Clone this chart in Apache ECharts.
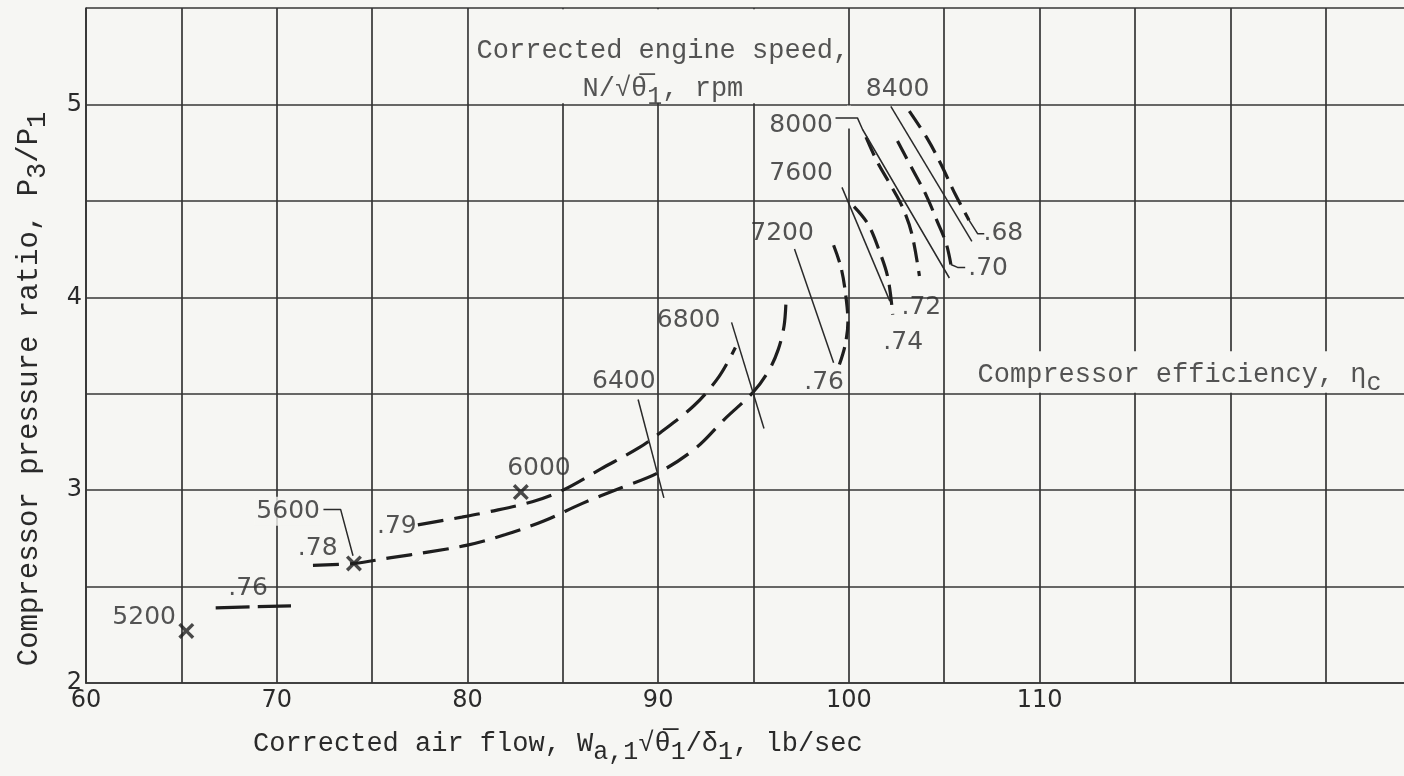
<!DOCTYPE html>
<html>
<head>
<meta charset="utf-8">
<script src="https://cdn.jsdelivr.net/npm/echarts@6/dist/echarts.min.js"></script>
<style>
  html, body { margin: 0; padding: 0; background: #f6f6f3; overflow: hidden; }
  /* the plot runs on past the right edge of the window, as on the original sheet */
  #chart { width: 1424px; height: 776px; }
</style>
</head>
<body>
<div id="chart"></div>
<script>
// Axis tick labels
const xTickLabels = [60, 70, 80, 90, 100, 110];
const yTickLabels = [2, 3, 4, 5];

// Surge points: corrected speed, corrected air flow (lb/sec), pressure ratio
const surgeSpeed = ['5200', '5600', '6000'];
const surgeFlow = [65.26, 74.05, 82.8];
const surgeRatio = [2.27, 2.62, 2.99];

// Constant corrected-speed lines, [air flow, pressure ratio]
const line6400 = [[88.95, 3.47], [90.3, 2.96]];
const line6800 = [[93.85, 3.87], [95.55, 3.32]];
const line7200 = [[97.15, 4.25], [99.2, 3.66]];
const line7600 = [[99.64, 4.57], [102.15, 3.98]];
const line8000 = [[99.3, 4.93], [100.45, 4.93], [100.72, 4.87], [105.27, 4.10]];
const line8400 = [[102.2, 4.99], [106.45, 4.29]];

// Compressor efficiency contours, [air flow, pressure ratio]
const eta68 = [[103.17, 4.965], [104.13, 4.82], [104.83, 4.69], [105.6, 4.53], [106.3, 4.40]];
const eta70 = [[102.55, 4.81], [103.3, 4.67], [104.05, 4.53], [104.65, 4.39], [105.1, 4.28], [105.35, 4.17]];
const eta72 = [[100.9, 4.83], [101.5, 4.70], [102.2, 4.58], [102.8, 4.47], [103.3, 4.33], [103.7, 4.11]];
const eta74 = [[100.27, 4.47], [101.0, 4.38], [101.6, 4.24], [102.05, 4.10], [102.3, 3.91]];
const eta76High = [[99.2, 4.27], [99.6, 4.15], [99.85, 4.0], [99.95, 3.87], [99.8, 3.75], [99.5, 3.65]];
const eta76Low = [[66.8, 2.39], [70.75, 2.40]];
const eta78 = [[71.9, 2.61], [74.05, 2.62], [76, 2.65], [78, 2.68], [80, 2.715], [82, 2.77], [84, 2.84],
               [86, 2.93], [88, 3.01], [90, 3.09], [92, 3.22], [93.5, 3.37], [95, 3.51], [95.8, 3.62],
               [96.3, 3.73], [96.6, 3.85], [96.7, 3.97]];
const eta79 = [[77.4, 2.82], [79.7, 2.86], [81, 2.885], [83.4, 2.94], [85, 3.0], [87, 3.11], [89, 3.22],
               [90, 3.29], [91.9, 3.44], [93.2, 3.59], [94.05, 3.74]];

// Leaders from labels to curves
const lead68 = [[106.3, 4.40], [106.75, 4.33], [107.1, 4.33]];
const lead70 = [[105.35, 4.17], [105.7, 4.155], [106.1, 4.155]];
const lead5600 = [[72.45, 2.90], [73.35, 2.90], [74.0, 2.66]];

// Speed and efficiency labels with their anchor points
const speedLabels = ['5200', '5600', '6000', '6400', '6800', '7200', '7600', '8000', '8400'];
const speedLabelAt = [[63.05, 2.34], [70.6, 2.89], [83.75, 3.11], [88.2, 3.565], [91.6, 3.88],
                      [96.5, 4.33], [97.5, 4.64], [97.5, 4.89], [102.56, 5.075]];
const etaLabels = ['.76', '.78', '.79', '.76', '.74', '.72', '.70', '.68'];
const etaLabelAt = [[68.5, 2.49], [72.15, 2.70], [76.3, 2.81], [98.7, 3.56], [102.85, 3.765],
                    [103.8, 3.945], [107.3, 4.15], [108.1, 4.33]];

const BG = '#f6f6f3';
const INK = '#2a2a2a';
const GRID = '#363636';
const MONO = '"Liberation Mono", "DejaVu Sans Mono", monospace';
const SANS = '"DejaVu Sans", sans-serif';

const chart = echarts.init(document.getElementById('chart'));

function contour(data, dash) {
  return {
    type: 'line', data: data, symbol: 'none', smooth: 0.35, silent: true, z: 3,
    lineStyle: { color: '#1e1e1e', width: 3.2, type: dash, cap: 'butt' }
  };
}
function thin(data) {
  return {
    type: 'line', data: data, symbol: 'none', silent: true, z: 3,
    lineStyle: { color: '#2a2a2a', width: 1.5 }
  };
}

// typewriter text with lowered subscripts that keep the line height fixed
function richMono(size, lh) {
  const drop = Math.round(size * 0.62);
  return {
    n: { fontFamily: MONO, fontSize: size, lineHeight: lh, color: INK },
    s: { fontFamily: MONO, fontSize: size - 2, lineHeight: lh - drop, padding: [drop, 0, 0, 0], color: INK }
  };
}

const labelItems = speedLabels.map((t, i) => ({
  value: speedLabelAt[i], name: t,
  label: t === '5600' ? { backgroundColor: BG, padding: [2, 2, 2, 2] } : undefined
})).concat(etaLabels.map((t, i) => ({ value: etaLabelAt[i], name: t })));

const option = {
  backgroundColor: BG,
  animation: false,
  grid: { left: 86, top: 8, right: 0, bottom: 93 },
  xAxis: {
    type: 'value', min: 60, max: 130, interval: 5,
    axisLine: { show: true, lineStyle: { color: GRID, width: 1.7 } },
    axisTick: { show: false },
    splitLine: { show: true, lineStyle: { color: GRID, width: 1.7 } },
    axisLabel: {
      margin: 6, fontFamily: SANS, fontSize: 24, color: INK,
      formatter: v => (xTickLabels.includes(v) ? String(v) : '')
    }
  },
  yAxis: {
    type: 'value', min: 2, max: 5.5, interval: 0.5,
    axisLine: { show: true, lineStyle: { color: GRID, width: 1.7 } },
    axisTick: { show: false },
    splitLine: { show: true, lineStyle: { color: GRID, width: 1.7 } },
    axisLabel: {
      margin: 4, fontFamily: SANS, fontSize: 24, color: INK,
      formatter: v => (yTickLabels.includes(v) ? String(v) : '')
    }
  },
  graphic: [
    {
      type: 'text', left: 253, top: 723, silent: true,
      style: {
        text: '{n|Corrected air flow, W}{s|a,1}{n|√θ\u0305}{s|1}{n|/δ}{s|1}{n|, lb/sec}',
        rich: richMono(27, 34), fill: INK
      }
    },
    {
      type: 'text', x: 29, y: 389, rotation: Math.PI / 2, silent: true,
      style: {
        text: '{n|Compressor pressure ratio, P}{s|3}{n|/P}{s|1}',
        rich: richMono(29, 34), fill: INK, align: 'center', verticalAlign: 'middle'
      }
    }
  ],
  series: [
    // paper-coloured panels behind the in-plot captions
    {
      type: 'scatter', data: [], silent: true,
      markArea: {
        silent: true,
        itemStyle: { color: BG, borderWidth: 0 },
        label: { show: false },
        emphasis: { disabled: true },
        data: [
          [{ coord: [80.08, 5.006] }, { coord: [99.92, 5.494] }],
          [{ coord: [106.3, 3.505] }, { coord: [130, 3.72] }],
          [{ coord: [99.9, 4.875] }, { coord: [100.1, 4.994] }]
        ]
      }
    },
    contour(eta79, [26, 11]),
    contour(eta78, [26, 11]),
    contour(eta76Low, [34, 8]),
    contour(eta76High, [18, 8]),
    contour(eta74, [20, 9]),
    contour(eta72, [20, 9]),
    contour(eta70, [20, 9]),
    contour(eta68, [20, 9]),
    thin(line6400), thin(line6800), thin(line7200), thin(line7600), thin(line8000), thin(line8400),
    thin(lead68), thin(lead70), thin(lead5600),
    {
      type: 'scatter', silent: true, z: 4,
      symbol: 'path://M0,1.5L1.5,0L5,3.5L8.5,0L10,1.5L6.5,5L10,8.5L8.5,10L5,6.5L1.5,10L0,8.5L3.5,5Z',
      symbolSize: 16,
      itemStyle: { color: '#1e1e1e' },
      data: surgeFlow.map((f, i) => ({ value: [f, surgeRatio[i]], name: surgeSpeed[i] }))
    },
    {
      type: 'scatter', silent: true, z: 2, symbolSize: 0,
      label: {
        show: true, position: 'inside', formatter: '{b}',
        fontFamily: SANS, fontSize: 25, color: INK
      },
      data: labelItems
    },
    {
      type: 'scatter', silent: true, z: 2, symbolSize: 0,
      label: { show: true, position: 'inside', formatter: '{b}', rich: richMono(27, 38) },
      data: [
        { value: [90.25, 5.18], name: '{n|Corrected engine speed,}\n{n|N/√θ\u0305}{s|1}{n|, rpm}' }
      ]
    },
    {
      type: 'scatter', silent: true, z: 2, symbolSize: 0,
      label: { show: true, position: 'right', distance: 0, align: 'left', formatter: '{b}', rich: richMono(27, 34) },
      data: [
        { value: [106.75, 3.60], name: '{n|Compressor efficiency, η}{s|c}' }
      ]
    }
  ]
};

chart.setOption(option);
</script>
</body>
</html>
